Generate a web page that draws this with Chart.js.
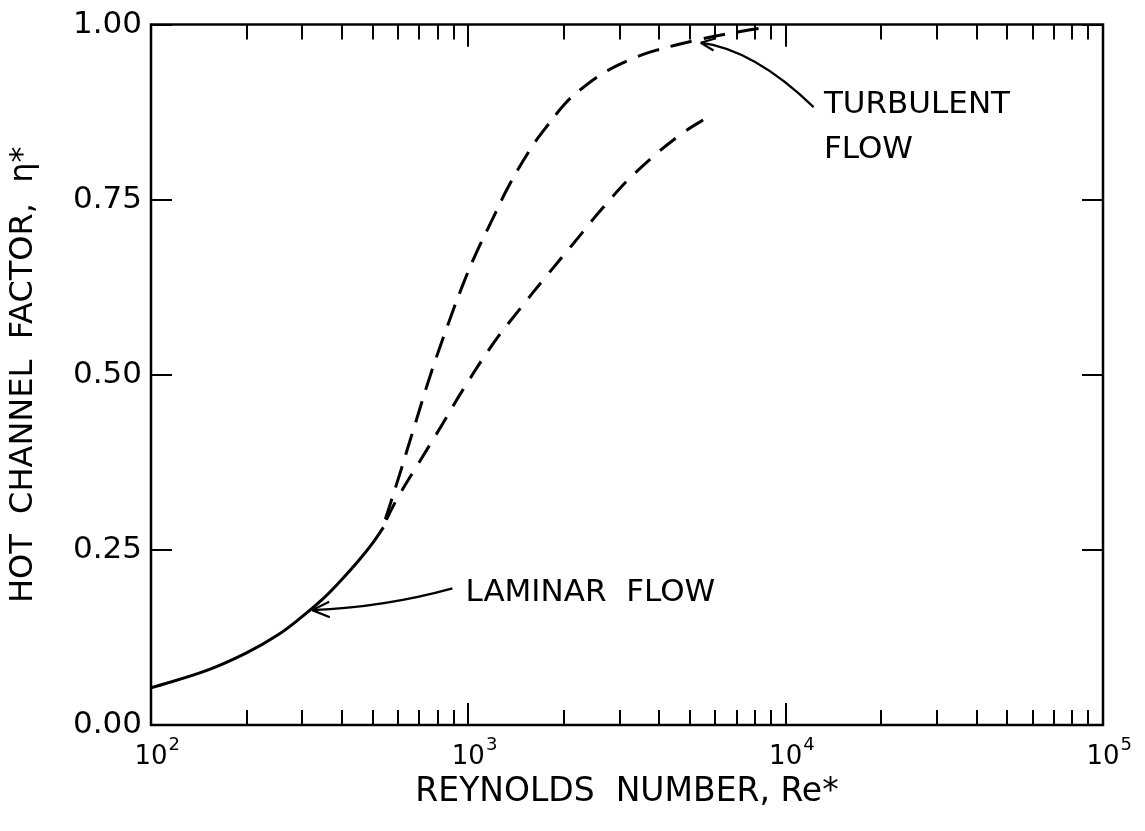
<!DOCTYPE html>
<html>
<head>
<meta charset="utf-8">
<script src="https://cdn.jsdelivr.net/npm/chart.js@4.4.1/dist/chart.umd.min.js"></script>
<style>
  html, body { margin: 0; padding: 0; background: #fff; }
  #chart { display: block; }
</style>
</head>
<body>
<canvas id="chart" width="1145" height="831"></canvas>
<script>
// laminar flow (solid)
const laminarRe  = [100, 150, 200, 250, 300, 350, 400, 450, 500, 540];
const laminarEta = [0.053, 0.078, 0.103, 0.128, 0.155, 0.181, 0.208, 0.234, 0.26, 0.282];

// turbulent flow, upper dashed branch
const upperRe  = [540, 600, 680, 760, 860, 960, 1050, 1200, 1350, 1600, 1750, 2000, 2200, 2650, 3200, 3900, 5400, 7200, 9000];
const upperEta = [0.285, 0.35, 0.43, 0.5, 0.57, 0.628, 0.67, 0.725, 0.772, 0.828, 0.852, 0.885, 0.903, 0.93, 0.949, 0.963, 0.979, 0.99, 0.997];

// turbulent flow, lower dashed branch
const lowerRe  = [540, 600, 700, 830, 960, 1200, 1460, 1770, 2140, 2650, 3370, 4670, 5900];
const lowerEta = [0.285, 0.325, 0.375, 0.43, 0.478, 0.545, 0.595, 0.642, 0.687, 0.738, 0.789, 0.843, 0.872];

// axis ticks
const xDecades = [100, 1000, 10000, 100000];
const xExponents = ['2', '3', '4', '5'];
const yTicks = [0, 0.25, 0.5, 0.75, 1];

const toPoints = (xs, ys) => xs.map((v, i) => ({ x: v, y: ys[i] }));

const FONT = "'DejaVu Sans', sans-serif";

// frame, inward ticks, decade labels and the two callouts
const decorations = {
  id: 'decorations',
  afterDraw(chart) {
    const { ctx, chartArea: a, scales: { x, y } } = chart;
    ctx.save();
    ctx.strokeStyle = '#000';
    ctx.fillStyle = '#000';
    ctx.lineWidth = 2.5;
    ctx.lineCap = 'butt';
    ctx.strokeRect(a.left, a.top, a.right - a.left, a.bottom - a.top);

    // x ticks, bottom and top
    ctx.lineWidth = 2;
    for (let d = 0; d < xDecades.length - 1; d++) {
      for (let m = 1; m <= 10; m++) {
        const px = Math.round(x.getPixelForValue(xDecades[d] * m));
        const len = (m === 1 || m === 10) ? 22 : 15;
        ctx.beginPath();
        ctx.moveTo(px, a.bottom); ctx.lineTo(px, a.bottom - len);
        ctx.moveTo(px, a.top); ctx.lineTo(px, a.top + len);
        ctx.stroke();
      }
    }
    // y ticks, left and right
    yTicks.forEach(v => {
      const py = Math.round(y.getPixelForValue(v));
      ctx.beginPath();
      ctx.moveTo(a.left, py); ctx.lineTo(a.left + 21, py);
      ctx.moveTo(a.right, py); ctx.lineTo(a.right - 21, py);
      ctx.stroke();
    });

    // decade labels 10^n
    xDecades.forEach((v, i) => {
      const px = x.getPixelForValue(v);
      ctx.font = '26px ' + FONT;
      ctx.textAlign = 'center';
      ctx.textBaseline = 'alphabetic';
      const w = ctx.measureText('10').width;
      ctx.fillText('10', px, a.bottom + 39);
      ctx.font = '18px ' + FONT;
      ctx.textAlign = 'left';
      ctx.fillText(xExponents[i], px + w / 2 + 1, a.bottom + 25);
    });

    // callouts
    const arrow = (from, ctrl, tip, head) => {
      const p0 = [x.getPixelForValue(from[0]), y.getPixelForValue(from[1])];
      const c = [x.getPixelForValue(ctrl[0]), y.getPixelForValue(ctrl[1])];
      const p2 = [x.getPixelForValue(tip[0]), y.getPixelForValue(tip[1])];
      ctx.lineWidth = 2.2;
      ctx.beginPath();
      ctx.moveTo(p0[0], p0[1]);
      ctx.quadraticCurveTo(c[0], c[1], p2[0], p2[1]);
      ctx.stroke();
      const ang = Math.atan2(p2[1] - c[1], p2[0] - c[0]);
      ctx.beginPath();
      [0.42, -0.42].forEach(d => {
        ctx.moveTo(p2[0], p2[1]);
        ctx.lineTo(p2[0] - head * Math.cos(ang + d), p2[1] - head * Math.sin(ang + d));
      });
      ctx.stroke();
    };
    arrow([891, 0.195], [543, 0.168], [322, 0.164], 19);
    arrow([12250, 0.882], [7950, 0.964], [5400, 0.974], 15);

    ctx.font = '31px ' + FONT;
    ctx.textAlign = 'left';
    ctx.textBaseline = 'middle';
    ctx.fillText('LAMINAR  FLOW', x.getPixelForValue(979), y.getPixelForValue(0.189));
    ctx.fillText('TURBULENT', x.getPixelForValue(13200), y.getPixelForValue(0.885));
    ctx.fillText('FLOW', x.getPixelForValue(13200), y.getPixelForValue(0.821));
    ctx.restore();
  }
};

const common = {
  borderColor: '#000',
  borderWidth: 3,
  pointRadius: 0,
  fill: false,
  tension: 0.4
};

new Chart('chart', {
  type: 'line',
  data: {
    datasets: [
      { ...common, label: 'Laminar', data: toPoints(laminarRe, laminarEta) },
      { ...common, label: 'Turbulent upper', data: toPoints(upperRe, upperEta), borderDash: [22, 12], borderDashOffset: 28 },
      { ...common, label: 'Turbulent lower', data: toPoints(lowerRe, lowerEta), borderDash: [20, 13], borderDashOffset: 27 }
    ]
  },
  options: {
    responsive: false,
    animation: false,
    layout: { padding: { top: 22, right: 42, left: 0, bottom: 0 } },
    plugins: { legend: { display: false }, tooltip: { enabled: false } },
    scales: {
      x: {
        type: 'logarithmic',
        min: 100,
        max: 100000,
        grid: { display: false, drawTicks: false },
        border: { display: false },
        ticks: { display: false },
        title: {
          display: true,
          text: 'REYNOLDS  NUMBER, Re*',
          color: '#000',
          font: { family: FONT, size: 33 },
          padding: { top: 0, bottom: 19 }
        },
        afterFit: s => { s.height = 106; }
      },
      y: {
        min: 0,
        max: 1,
        grid: { display: false, drawTicks: false },
        border: { display: false },
        ticks: {
          stepSize: 0.25,
          color: '#000',
          padding: 9,
          font: { family: FONT, size: 31, lineHeight: 1 },
          callback: v => v.toFixed(2)
        },
        title: {
          display: true,
          text: 'HOT  CHANNEL  FACTOR,  η*',
          color: '#000',
          font: { family: FONT, size: 32 },
          padding: { top: 4, bottom: 0 }
        },
        afterFit: s => { s.width = 151; }
      }
    }
  },
  plugins: [decorations]
});
</script>
</body>
</html>
